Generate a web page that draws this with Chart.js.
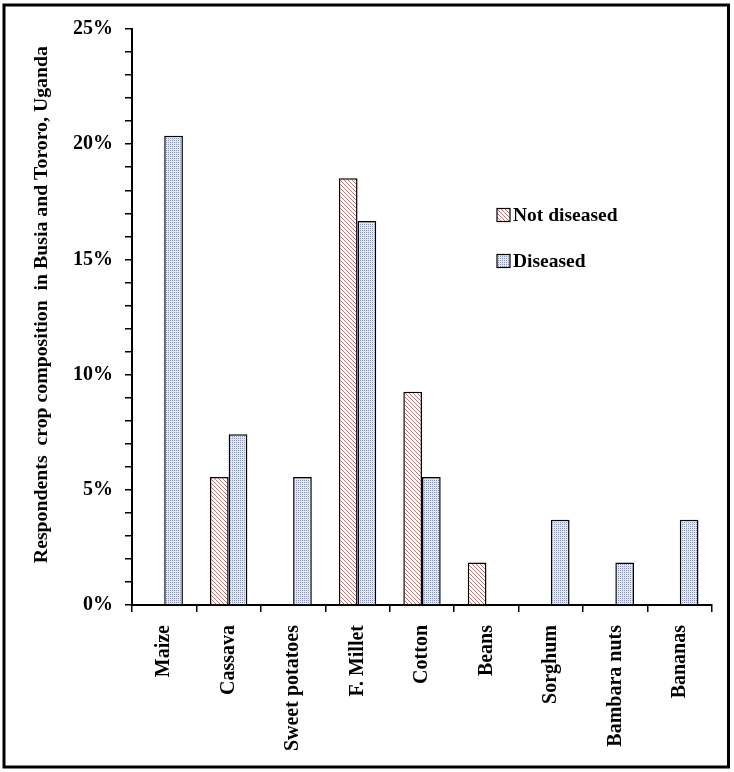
<!DOCTYPE html>
<html><head><meta charset="utf-8">
<script src="https://cdn.jsdelivr.net/npm/chart.js@4.4.1/dist/chart.umd.min.js"></script>
<style>html,body{margin:0;padding:0;background:#fff;} canvas{display:block;}</style>
</head><body>
<canvas id="c" width="734" height="772"></canvas>
<script>
const categories = ['Maize','Cassava','Sweet potatoes','F. Millet','Cotton','Beans','Sorghum','Bambara nuts','Bananas'];
const notDiseased = [0, 5.56, 0, 18.52, 9.26, 1.85, 0, 0, 0];
const diseased = [20.37, 7.41, 5.56, 16.67, 5.56, 0, 3.70, 1.85, 3.70];
const seriesNames = ['Not diseased', 'Diseased'];
const yTitle = 'Respondents  crop composition  in Busia and Tororo, Uganda';
const yMin = 0, yMax = 25, yStep = 1, yLabelEvery = 5;

const FONT = "'Liberation Serif', 'Times New Roman', serif";

function hatchPattern() {
  const c = document.createElement('canvas'); c.width = 4; c.height = 4;
  const x = c.getContext('2d');
  x.fillStyle = '#ffffff'; x.fillRect(0, 0, 4, 4);
  x.fillStyle = '#e46a6a';
  for (let i = 0; i < 4; i++) x.fillRect(i, i, 1, 1);
  return x.createPattern(c, 'repeat');
}
function dotPattern() {
  const c = document.createElement('canvas'); c.width = 2; c.height = 2;
  const x = c.getContext('2d');
  x.fillStyle = '#dfe6f6'; x.fillRect(0, 0, 2, 2);
  x.fillStyle = '#8796c8'; x.fillRect(0, 0, 1, 1);
  return x.createPattern(c, 'repeat');
}

const frame = {
  id: 'frame',
  beforeDraw(chart) {
    const ctx = chart.ctx;
    ctx.save();
    ctx.fillStyle = '#fff';
    ctx.fillRect(0, 0, chart.width, chart.height);
    ctx.restore();
  },
  afterDraw(chart) {
    const ctx = chart.ctx;
    ctx.save();
    ctx.strokeStyle = '#000';
    ctx.lineWidth = 3;
    ctx.strokeRect(4, 5, 724.5, 762);
    // legend inside plot
    const items = chart.data.datasets;
    const lx = 497, ly = [215, 261];
    items.forEach((ds, i) => {
      ctx.fillStyle = ds.backgroundColor;
      ctx.fillRect(lx, ly[i] - 6.5, 13, 13);
      ctx.lineWidth = 1.2; ctx.strokeStyle = '#000';
      ctx.strokeRect(lx, ly[i] - 6.5, 13, 13);
      ctx.fillStyle = '#000';
      ctx.font = 'bold 19.5px ' + FONT;
      ctx.textBaseline = 'middle';
      ctx.textAlign = 'left';
      ctx.fillText(ds.label, lx + 16, ly[i] + 1);
    });
    ctx.restore();
  }
};

new Chart(document.getElementById('c'), {
  type: 'bar',
  data: {
    labels: categories,
    datasets: [
      { label: seriesNames[0], data: notDiseased, backgroundColor: hatchPattern(), borderColor: '#000', borderWidth: 1.5, borderSkipped: 'bottom' },
      { label: seriesNames[1], data: diseased, backgroundColor: dotPattern(), borderColor: '#000', borderWidth: 1.5, borderSkipped: 'bottom' }
    ]
  },
  options: {
    responsive: false,
    devicePixelRatio: 1,
    animation: false,
    datasets: { bar: { categoryPercentage: 0.58, barPercentage: 1.0 } },
    layout: { padding: { left: 30, right: 22, top: 29, bottom: 0 } },
    plugins: { legend: { display: false }, tooltip: { enabled: false } },
    scales: {
      x: {
        afterFit(s) { s.height = 167; },
        grid: { offset: true, drawOnChartArea: false, drawTicks: true, tickLength: 7, color: '#000', lineWidth: 1.5 },
        border: { display: true, color: '#000', width: 2 },
        ticks: { autoSkip: false, maxRotation: 90, minRotation: 90, padding: 13, color: '#000', font: { family: FONT, size: 20, weight: 'bold' } }
      },
      y: {
        min: yMin, max: yMax,
        afterFit(s) { s.width = 102; },
        grid: { drawOnChartArea: false, drawTicks: true, tickLength: 7, color: '#000', lineWidth: 1.5 },
        border: { display: true, color: '#000', width: 2 },
        ticks: {
          stepSize: yStep, autoSkip: false, padding: 12, color: '#000',
          font: { family: FONT, size: 20, weight: 'bold' },
          callback: v => (v % yLabelEvery === 0 ? v + '%' : '')
        },
        title: { display: true, text: '     ' + yTitle, color: '#000', padding: { top: 0, bottom: 0 }, font: { family: FONT, size: 19.8, weight: 'bold' } }
      }
    }
  },
  plugins: [frame]
});
</script>
</body></html>
